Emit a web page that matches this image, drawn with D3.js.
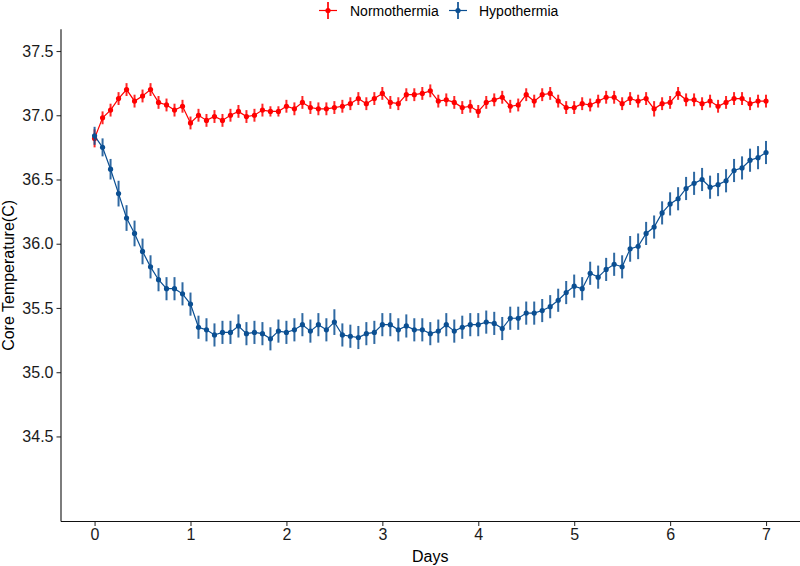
<!DOCTYPE html>
<html>
<head>
<meta charset="utf-8">
<script src="https://cdn.jsdelivr.net/npm/d3@7"></script>
<style>
  html, body { margin: 0; padding: 0; background: #fff; }
  svg { display: block; font-family: "Liberation Sans", Arial, sans-serif; }
</style>
</head>
<body>
<svg id="chart" width="800" height="566"></svg>
<script>
// ---- data ----
const hours = d3.range(0, 170, 2); // sampling every 2 hours, 0..168
const seriesNames = ["Normothermia", "Hypothermia"];
const seriesColors = ["#FF0000", "#0B4F92"];

const normoMean = [
  36.82, 36.98, 37.04, 37.13, 37.20, 37.11, 37.15, 37.20, 37.10, 37.08, 37.04, 37.07,
  36.94, 37.00, 36.96, 36.99, 36.96, 37.00, 37.03, 36.99, 37.00, 37.04, 37.03, 37.03,
  37.07, 37.05, 37.10, 37.06, 37.05, 37.05, 37.06, 37.07, 37.09, 37.13, 37.09, 37.13,
  37.17, 37.10, 37.09, 37.16, 37.16, 37.17, 37.19, 37.11, 37.12, 37.10, 37.06, 37.07,
  37.03, 37.10, 37.12, 37.14, 37.07, 37.08, 37.16, 37.11, 37.16, 37.17, 37.11, 37.06,
  37.06, 37.09, 37.08, 37.11, 37.14, 37.14, 37.09, 37.13, 37.11, 37.13, 37.05, 37.09,
  37.10, 37.17, 37.12, 37.12, 37.09, 37.11, 37.07, 37.10, 37.13, 37.13, 37.09, 37.11,
  37.11
];
const normoErr = [
  0.07, 0.05, 0.05, 0.05, 0.05, 0.05, 0.05, 0.05, 0.05, 0.05, 0.05, 0.05,
  0.05, 0.05, 0.05, 0.05, 0.05, 0.05, 0.05, 0.05, 0.05, 0.05, 0.04, 0.04,
  0.05, 0.05, 0.05, 0.05, 0.05, 0.05, 0.05, 0.05, 0.05, 0.05, 0.05, 0.05,
  0.05, 0.05, 0.05, 0.05, 0.05, 0.05, 0.05, 0.05, 0.05, 0.05, 0.05, 0.05,
  0.05, 0.05, 0.05, 0.05, 0.05, 0.05, 0.05, 0.05, 0.05, 0.05, 0.05, 0.05,
  0.05, 0.05, 0.05, 0.05, 0.05, 0.05, 0.05, 0.05, 0.05, 0.05, 0.06, 0.05,
  0.05, 0.05, 0.05, 0.05, 0.05, 0.05, 0.05, 0.05, 0.05, 0.05, 0.05, 0.05,
  0.05
];
const hypoMean = [
  36.84, 36.75, 36.58, 36.39, 36.20, 36.08, 35.94, 35.82, 35.72, 35.65, 35.65, 35.61,
  35.53, 35.35, 35.33, 35.29, 35.31, 35.31, 35.36, 35.30, 35.31, 35.30, 35.26, 35.32,
  35.31, 35.33, 35.37, 35.32, 35.37, 35.33, 35.39, 35.29, 35.28, 35.27, 35.30, 35.31,
  35.37, 35.37, 35.33, 35.36, 35.33, 35.33, 35.30, 35.32, 35.37, 35.32, 35.35, 35.37,
  35.37, 35.39, 35.38, 35.34, 35.42, 35.42, 35.46, 35.46, 35.48, 35.51, 35.56, 35.62,
  35.67, 35.65, 35.77, 35.74, 35.80, 35.84, 35.82, 35.96, 35.98, 36.08, 36.13, 36.24,
  36.31, 36.35, 36.43, 36.47, 36.50, 36.44, 36.46, 36.49, 36.57, 36.59, 36.65, 36.67,
  36.71
];
const hypoErr = [
  0.07, 0.07, 0.08, 0.10, 0.10, 0.10, 0.10, 0.09, 0.09, 0.09, 0.09, 0.09,
  0.09, 0.09, 0.09, 0.09, 0.09, 0.09, 0.09, 0.09, 0.09, 0.09, 0.09, 0.09,
  0.09, 0.09, 0.09, 0.09, 0.09, 0.09, 0.10, 0.09, 0.09, 0.09, 0.09, 0.09,
  0.09, 0.09, 0.09, 0.09, 0.09, 0.09, 0.09, 0.09, 0.09, 0.09, 0.09, 0.09,
  0.09, 0.09, 0.09, 0.09, 0.09, 0.09, 0.09, 0.09, 0.09, 0.09, 0.09, 0.09,
  0.09, 0.09, 0.09, 0.09, 0.09, 0.09, 0.09, 0.10, 0.10, 0.09, 0.09, 0.09,
  0.09, 0.09, 0.09, 0.09, 0.09, 0.09, 0.09, 0.09, 0.09, 0.09, 0.09, 0.09,
  0.09
];
const xTicks = [0, 1, 2, 3, 4, 5, 6, 7];
const yTicks = [34.5, 35.0, 35.5, 36.0, 36.5, 37.0, 37.5];
const xTitle = "Days";
const yTitle = "Core Temperature(C)";

// ---- layout ----
const svg = d3.select("#chart");
const panel = { left: 61, right: 799.6, top: 29.3, bottom: 521.5 };

const x = d3.scaleLinear().domain([-0.35, 7.35]).range([panel.left, panel.right]);
const y = d3.scaleLinear().domain([33.838, 37.669]).range([panel.bottom, panel.top]);

const series = [
  { name: seriesNames[0], color: seriesColors[0], mean: normoMean, err: normoErr },
  { name: seriesNames[1], color: seriesColors[1], mean: hypoMean, err: hypoErr }
].map(s => ({
  ...s,
  pts: hours.map((h, i) => ({ d: h / 24, m: s.mean[i], e: s.err[i] }))
}));

// axes
const xAxis = svg.append("g")
  .attr("transform", `translate(0,${panel.bottom})`)
  .call(d3.axisBottom(x).tickValues(xTicks).tickFormat(d3.format("d")).tickSize(4.5).tickPadding(3));
const yAxis = svg.append("g")
  .attr("transform", `translate(${panel.left},0)`)
  .call(d3.axisLeft(y).tickValues(yTicks).tickFormat(d3.format(".1f")).tickSize(4.5).tickPadding(3));

[xAxis, yAxis].forEach(g => {
  g.select(".domain").remove();
  g.selectAll(".tick line").attr("stroke", "#333").attr("stroke-width", 1.1);
  g.selectAll(".tick text").attr("fill", "#1a1a1a").style("font-size", "16px");
});

svg.append("line")
  .attr("x1", panel.left).attr("x2", 800)
  .attr("y1", panel.bottom).attr("y2", panel.bottom)
  .attr("stroke", "#111").attr("stroke-width", 1.1);
svg.append("line")
  .attr("x1", panel.left).attr("x2", panel.left)
  .attr("y1", panel.top).attr("y2", panel.bottom)
  .attr("stroke", "#111").attr("stroke-width", 1.1);

// titles
svg.append("text")
  .attr("x", (panel.left + panel.right) / 2).attr("y", 562)
  .attr("text-anchor", "middle").style("font-size", "16px").attr("fill", "#000")
  .text(xTitle);
svg.append("text")
  .attr("transform", `translate(14,${(panel.top + panel.bottom) / 2}) rotate(-90)`)
  .attr("text-anchor", "middle").style("font-size", "16px").attr("fill", "#000")
  .text(yTitle);

// series
const line = d3.line().x(p => x(p.d)).y(p => y(p.m));
series.forEach(s => {
  const g = svg.append("g");
  g.selectAll("line.err").data(s.pts).join("line")
    .attr("class", "err")
    .attr("x1", p => x(p.d)).attr("x2", p => x(p.d))
    .attr("y1", p => y(p.m - p.e)).attr("y2", p => y(p.m + p.e))
    .attr("stroke", s.color).attr("stroke-width", 2).attr("opacity", 0.85);
  g.append("path").datum(s.pts)
    .attr("d", line).attr("fill", "none")
    .attr("stroke", s.color).attr("stroke-width", 1.2);
  g.selectAll("circle").data(s.pts).join("circle")
    .attr("cx", p => x(p.d)).attr("cy", p => y(p.m)).attr("r", 2.6)
    .attr("fill", s.color);
});

// legend
const legendItems = [
  { name: seriesNames[0], color: seriesColors[0], gx: 328, tx: 350 },
  { name: seriesNames[1], color: seriesColors[1], gx: 458, tx: 479 }
];
const lg = svg.append("g");
legendItems.forEach(it => {
  const cy = 10.5;
  lg.append("line").attr("x1", it.gx - 9).attr("x2", it.gx + 9).attr("y1", cy).attr("y2", cy)
    .attr("stroke", it.color).attr("stroke-width", 1.2);
  lg.append("line").attr("x1", it.gx).attr("x2", it.gx).attr("y1", cy - 8.5).attr("y2", cy + 8.5)
    .attr("stroke", it.color).attr("stroke-width", 2).attr("opacity", 0.85);
  lg.append("circle").attr("cx", it.gx).attr("cy", cy).attr("r", 2.6).attr("fill", it.color);
  lg.append("text").attr("x", it.tx).attr("y", cy + 5)
    .style("font-size", "14px").attr("fill", "#000").text(it.name);
});
</script>
</body>
</html>
